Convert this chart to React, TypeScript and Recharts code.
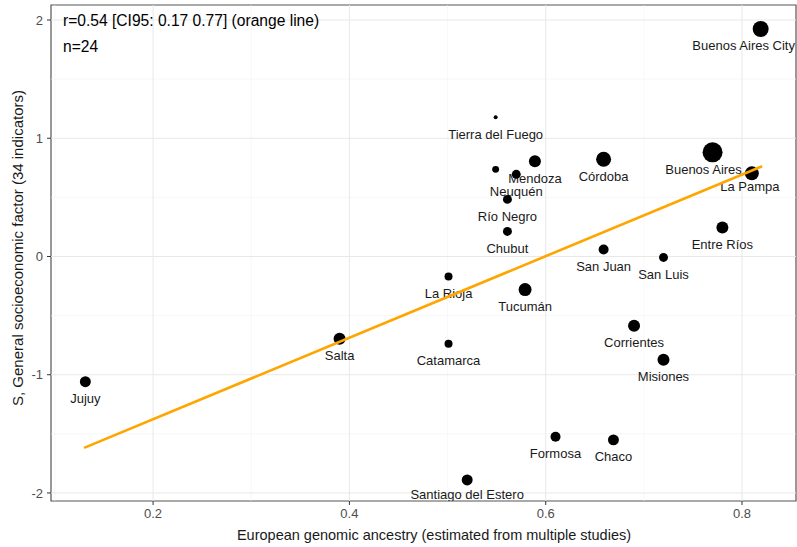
import React from 'react';
import {
  ScatterChart,
  Scatter,
  XAxis,
  YAxis,
  ZAxis,
  ReferenceLine,
  ReferenceArea
} from 'recharts';

// provinces
const provinces = [
  'Buenos Aires City', 'Tierra del Fuego', 'Santa Cruz', 'Neuquén', 'Mendoza', 'Córdoba',
  'Buenos Aires', 'La Pampa', 'Río Negro', 'Chubut', 'Entre Ríos', 'San Juan',
  'San Luis', 'La Rioja', 'Tucumán', 'Salta', 'Catamarca', 'Corrientes',
  'Misiones', 'Jujuy', 'Formosa', 'Chaco', 'Santiago del Estero'
];
const ancestry = [
  0.819, 0.549, 0.549, 0.570, 0.589, 0.659,
  0.770, 0.810, 0.561, 0.561, 0.780, 0.659,
  0.720, 0.501, 0.579, 0.390, 0.501, 0.690,
  0.720, 0.131, 0.610, 0.669, 0.520
];
const sFactor = [
  1.924, 1.178, 0.737, 0.695, 0.805, 0.822,
  0.881, 0.703, 0.483, 0.212, 0.246, 0.059,
  -0.008, -0.169, -0.280, -0.695, -0.737, -0.585,
  -0.873, -1.059, -1.525, -1.551, -1.890
];
// point size weight (area units)
const weight = [
  64, 4, 12, 20, 36, 56,
  100, 49, 20, 20, 36, 25,
  20, 16, 42, 36, 16, 36,
  36, 30, 25, 30, 30
];

const fitX = [0.1297, 0.8205];
const fitY = [-1.619, 0.763];

const xTicks = [0.2, 0.4, 0.6, 0.8];
const xMinor = [0.1, 0.3, 0.5, 0.7];
const yTicks = [-2, -1, 0, 1, 2];
const yMinor = [-1.5, -0.5, 0.5, 1.5];

const X_DOMAIN: [number, number] = [0.096, 0.855];
const Y_DOMAIN: [number, number] = [-2.068, 2.127];

const data = provinces.map((name, i) => ({ name, x: ancestry[i], y: sFactor[i], weight: weight[i] }));
const fitData = fitX.map((x, i) => ({ x, y: fitY[i] }));

const hiddenLabels = ['Santa Cruz'];
const nudge: Record<string, [number, number]> = {
  'Buenos Aires City': [-17, 16],
  'Buenos Aires': [-9, 17],
  'La Pampa': [-2, 13],
  'Santiago del Estero': [0, 15]
};

const FONT = '"Liberation Sans", Arial, sans-serif';

const LabelShape = (props: any) => {
  const { cx, cy, payload } = props;
  if (hiddenLabels.includes(payload.name)) return <g />;
  const [dx, dy] = nudge[payload.name] || [0, 17];
  return (
    <text
      x={cx + dx}
      y={cy + dy}
      textAnchor="middle"
      dominantBaseline="central"
      fontSize={13}
      fontFamily={FONT}
      fill="#1a1a1a"
    >
      {payload.name}
    </text>
  );
};

const DotShape = (props: any) => {
  const { cx, cy, payload } = props;
  const r = props.width ? props.width / 2 : Math.sqrt(payload.weight);
  return <circle cx={cx} cy={cy} r={r} fill="#000" />;
};

const tickStyle = { fill: '#4d4d4d', fontSize: 13, fontFamily: FONT };

export default function App() {
  return (
    <div style={{ position: 'absolute', left: 0, top: 0, width: 797, height: 547, background: '#fff' }}>
      <ScatterChart width={797} height={547} margin={{ top: 5, right: 1, bottom: 0, left: 0 }}>
        <XAxis
          type="number"
          dataKey="x"
          domain={X_DOMAIN}
          allowDataOverflow
          ticks={xTicks}
          tickFormatter={(v) => Number(v).toFixed(1)}
          axisLine={false}
          tickLine={{ stroke: '#333' }}
          tickSize={4}
          tickMargin={4}
          height={46}
          tick={tickStyle}
        />
        <YAxis
          type="number"
          dataKey="y"
          domain={Y_DOMAIN}
          allowDataOverflow
          ticks={yTicks}
          axisLine={false}
          tickLine={{ stroke: '#333' }}
          tickSize={4}
          tickMargin={4}
          width={51}
          tick={tickStyle}
        />
        <ZAxis type="number" dataKey="weight" domain={[0, 100]} range={[0, 314]} />
        {xMinor.map((v) => (
          <ReferenceLine key={'xm' + v} x={v} stroke="#f2f2f2" strokeWidth={0.6} />
        ))}
        {yMinor.map((v) => (
          <ReferenceLine key={'ym' + v} y={v} stroke="#f2f2f2" strokeWidth={0.6} />
        ))}
        {xTicks.map((v) => (
          <ReferenceLine key={'x' + v} x={v} stroke="#e8e8e8" strokeWidth={1} />
        ))}
        {yTicks.map((v) => (
          <ReferenceLine key={'y' + v} y={v} stroke="#e8e8e8" strokeWidth={1} />
        ))}
        <Scatter data={data} shape={<LabelShape />} isAnimationActive={false} />
        <Scatter data={data} shape={<DotShape />} isAnimationActive={false} />
        <Scatter
          data={fitData}
          line={{ stroke: '#FFA500', strokeWidth: 2.6 }}
          shape={() => <g />}
          isAnimationActive={false}
        />
        <ReferenceArea
          x1={X_DOMAIN[0]}
          x2={X_DOMAIN[1]}
          y1={Y_DOMAIN[0]}
          y2={Y_DOMAIN[1]}
          fill="none"
          fillOpacity={0}
          stroke="#555"
          strokeWidth={1.2}
        />
      </ScatterChart>
      <div style={{ position: 'absolute', left: 63, top: 8, fontFamily: FONT, fontSize: 15.6, lineHeight: '26px', color: '#000' }}>
        <div>r=0.54 [CI95: 0.17 0.77] (orange line)</div>
        <div>n=24</div>
      </div>
      <div
        style={{
          position: 'absolute',
          left: 434,
          top: 527,
          transform: 'translateX(-50%)',
          whiteSpace: 'nowrap',
          fontFamily: FONT,
          fontSize: 14.5,
          color: '#1a1a1a'
        }}
      >
        European genomic ancestry (estimated from multiple studies)
      </div>
      <div
        style={{
          position: 'absolute',
          left: 17,
          top: 248,
          transform: 'translate(-50%, -50%) rotate(-90deg)',
          whiteSpace: 'nowrap',
          fontFamily: FONT,
          fontSize: 15,
          color: '#1a1a1a'
        }}
      >
        S, General socioeconomic factor (34 indicators)
      </div>
    </div>
  );
}
